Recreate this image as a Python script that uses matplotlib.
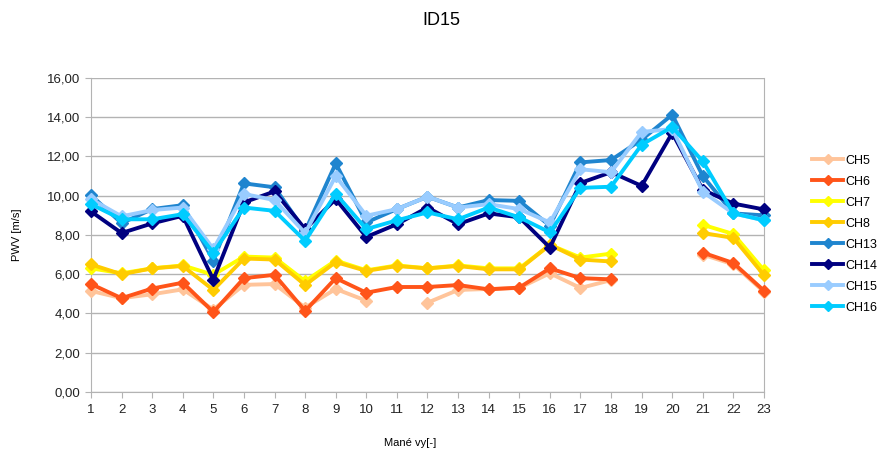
import numpy as np
import matplotlib
matplotlib.use("Agg")
import matplotlib.pyplot as plt
from matplotlib.ticker import FuncFormatter

plt.rcParams['font.family'] = ['Liberation Sans', 'DejaVu Sans']

nan = np.nan
merani = list(range(1, 24))

ch5 = [5.15, 4.78, 4.98, 5.23, 4.2, 5.46, 5.5, 4.3, 5.25, 4.65, nan, 4.55, 5.2, 5.25, 5.3, 6.05, 5.3, 5.7, nan, nan, 7.0, 6.5, 5.1]
ch6 = [5.5, 4.78, 5.27, 5.57, 4.07, 5.8, 5.97, 4.13, 5.8, 5.06, 5.35, 5.35, 5.45, 5.23, 5.32, 6.3, 5.8, 5.74, nan, nan, 7.1, 6.57, 5.16]
ch7 = [6.3, 6.05, 6.3, 6.45, 5.97, 6.9, 6.85, 5.65, 6.7, 6.2, 6.45, 6.3, 6.45, 6.3, 6.3, 7.5, 6.85, 7.05, nan, nan, 8.52, 8.05, 6.2]
ch8 = [6.5, 6.0, 6.3, 6.42, 5.2, 6.8, 6.75, 5.45, 6.62, 6.17, 6.42, 6.3, 6.42, 6.25, 6.25, 7.5, 6.75, 6.65, nan, nan, 8.1, 7.85, 5.95]
ch13 = [10.03, 8.6, 9.32, 9.52, 6.7, 10.63, 10.43, 8.2, 11.65, 8.64, 9.32, 9.95, 9.4, 9.78, 9.74, 8.47, 11.7, 11.82, 12.86, 14.13, 11.0, 9.1, 9.0]
ch14 = [9.2, 8.1, 8.59, 8.98, 5.72, 9.66, 10.22, 8.3, 9.83, 7.9, 8.55, 9.4, 8.55, 9.1, 8.9, 7.36, 10.65, 11.2, 10.5, 13.2, 10.3, 9.6, 9.3]
ch15 = [9.83, 8.95, 9.27, 9.4, 7.28, 10.09, 9.78, 8.1, 11.0, 8.98, 9.32, 9.95, 9.4, 9.57, 9.32, 8.64, 11.35, 11.2, 13.25, 13.4, 10.2, 9.1, 8.75]
ch16 = [9.57, 8.8, 8.8, 9.06, 7.1, 9.4, 9.23, 7.7, 10.1, 8.3, 8.75, 9.15, 8.8, 9.4, 8.9, 8.13, 10.4, 10.46, 12.6, 13.5, 11.75, 9.1, 8.75]

nazvy = ['CH5', 'CH6', 'CH7', 'CH8', 'CH13', 'CH14', 'CH15', 'CH16']
serie = [ch5, ch6, ch7, ch8, ch13, ch14, ch15, ch16]
barvy = ['#ffc49a', '#ff5419', '#ffff00', '#ffcc00', '#1f85cf', '#000080', '#99ccff', '#00ccff']

fig = plt.figure(figsize=(8.85, 4.5), dpi=100)
ax = fig.add_axes([0.1028, 0.1289, 0.7605, 0.6978])

for nazev, data, barva in zip(nazvy, serie, barvy):
    ax.plot(merani, data, color=barva, lw=2.8, marker='D', ms=6,
            label=nazev, clip_on=False, zorder=3)

ax.set_xlim(1, 23)
ax.set_ylim(0, 16)
ax.set_xticks(merani)
ax.set_yticks(np.arange(0, 17, 2))
ax.yaxis.set_major_formatter(FuncFormatter(lambda v, p: f"{v:.2f}".replace('.', ',')))
ax.grid(axis='y', color='#b3b3b3', lw=1)
ax.set_axisbelow(True)
for s in ['left', 'bottom', 'right']:
    ax.spines[s].set_color('#b3b3b3')
ax.spines['top'].set_visible(False)
ax.tick_params(colors='#b3b3b3', labelcolor='#222222', labelsize=9.5, length=4)
ax.tick_params(axis='x', pad=5)

fig.text(0.499, 0.955, 'ID15', fontsize=13, ha='center', va='center')
ax.set_xlabel('Mané vy[-]', fontsize=8)
ax.xaxis.set_label_coords(0.474, -0.145)
ax.set_ylabel('PWV [m/s]', fontsize=8, labelpad=18)

fig.legend(loc='upper left', bbox_to_anchor=(0.912, 0.667), frameon=False,
           fontsize=9, handlelength=2.5, markerscale=0.8, labelspacing=0.72,
           handletextpad=0.2, borderaxespad=0)

fig.savefig('out.png', dpi=100)
